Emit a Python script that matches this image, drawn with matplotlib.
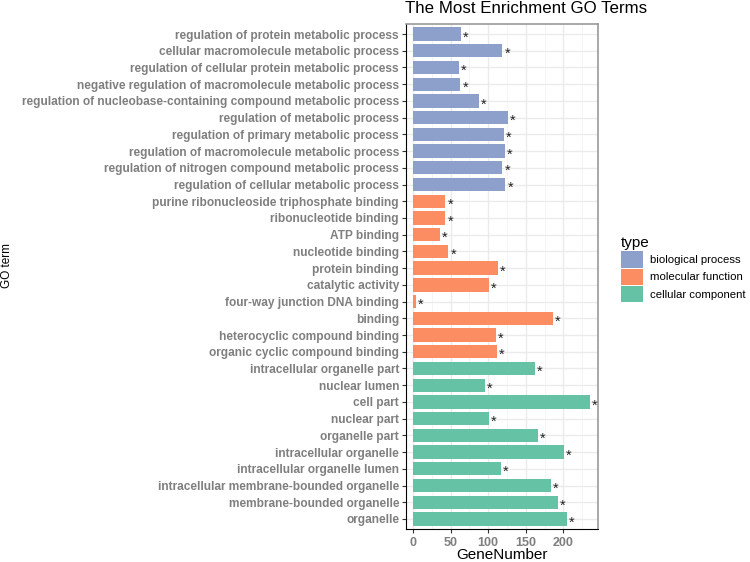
import matplotlib.pyplot as plt
import numpy as np

# GO terms, top to bottom as shown in the chart
terms = [
    "regulation of protein metabolic process",
    "cellular macromolecule metabolic process",
    "regulation of cellular protein metabolic process",
    "negative regulation of macromolecule metabolic process",
    "regulation of nucleobase-containing compound metabolic process",
    "regulation of metabolic process",
    "regulation of primary metabolic process",
    "regulation of macromolecule metabolic process",
    "regulation of nitrogen compound metabolic process",
    "regulation of cellular metabolic process",
    "purine ribonucleoside triphosphate binding",
    "ribonucleotide binding",
    "ATP binding",
    "nucleotide binding",
    "protein binding",
    "catalytic activity",
    "four-way junction DNA binding",
    "binding",
    "heterocyclic compound binding",
    "organic cyclic compound binding",
    "intracellular organelle part",
    "nuclear lumen",
    "cell part",
    "nuclear part",
    "organelle part",
    "intracellular organelle",
    "intracellular organelle lumen",
    "intracellular membrane-bounded organelle",
    "membrane-bounded organelle",
    "organelle",
]
gene_number = [64, 119, 61, 63, 88, 126, 121, 122, 119, 123,
               43, 43, 36, 47, 113, 101, 4, 186, 110, 112,
               162, 96, 235, 101, 166, 201, 117, 183, 193, 205]
term_type = (["biological process"] * 10 + ["molecular function"] * 10
             + ["cellular component"] * 10)

type_order = ["biological process", "molecular function", "cellular component"]
type_colors = {"biological process": "#8DA0CB",
               "molecular function": "#FC8D62",
               "cellular component": "#66C2A5"}

plt.rcParams['font.family'] = ['Liberation Sans', 'DejaVu Sans']

fig = plt.figure(figsize=(7.5, 5.62), dpi=100)
ax = fig.add_axes([406 / 750, 1 - 529 / 562, 192 / 750, 505 / 562])

n = len(terms)
ypos = np.arange(n)[::-1]  # first term at top

handles = {}
for t in type_order:
    idx = [i for i in range(n) if term_type[i] == t]
    b = ax.barh(ypos[idx], [gene_number[i] for i in idx], height=0.8,
                color=type_colors[t], label=t, zorder=3)
    handles[t] = b

# significance stars
for i in range(n):
    ax.annotate("*", (gene_number[i], ypos[i]), xytext=(1.5, -2.5),
                textcoords="offset points", ha="left", va="center",
                fontsize=10.5, color="#222222", zorder=4)

ax.set_xlim(-9.3, 246)
ax.set_ylim(-0.6, n - 0.4)
ax.set_yticks(ypos)
ax.set_yticklabels(terms, fontsize=8.6, fontweight="bold", color="#7f7f7f")
ax.set_xticks([0, 50, 100, 150, 200])
ax.set_xticks([25, 75, 125, 175, 225], minor=True)
ax.tick_params(axis="x", labelsize=9, labelcolor="#7f7f7f", length=3,
               color="#333333", pad=2.5)
ax.tick_params(axis="y", length=3, color="#333333", pad=2)
ax.tick_params(axis="x", which="minor", length=0)
for lab in ax.get_xticklabels():
    lab.set_fontweight("bold")

ax.grid(True, which="major", color="#EBEBEB", linewidth=1.0, zorder=0)
ax.grid(True, which="minor", axis="x", color="#F2F2F2", linewidth=0.6, zorder=0)
ax.set_axisbelow(True)

for s in ["top", "right"]:
    ax.spines[s].set_color("#999999")
    ax.spines[s].set_linewidth(1.2)
for s in ["left", "bottom"]:
    ax.spines[s].set_color("black")
    ax.spines[s].set_linewidth(0.8)

fig.text(502 / 750, 1 - 559 / 562, "GeneNumber", fontsize=11,
         ha="center", va="baseline")
fig.text(7 / 750, 1 - 266 / 562, "GO term", fontsize=8.5, rotation=90,
         ha="center", va="center")
fig.text(405 / 750, 1 - 1 / 562, "The Most Enrichment GO Terms", fontsize=12.2,
         ha="left", va="top")

leg = ax.legend(handles=[handles[t] for t in type_order], labels=type_order,
                title="type", loc="upper left",
                bbox_to_anchor=(611 / 750, 1 - 226 / 562),
                bbox_transform=fig.transFigure, frameon=False, fontsize=8.2,
                title_fontsize=11, handlelength=1.9, handleheight=1.85,
                handletextpad=0.6, labelspacing=0.08, alignment="left")

fig.savefig("out.png", dpi=100)
